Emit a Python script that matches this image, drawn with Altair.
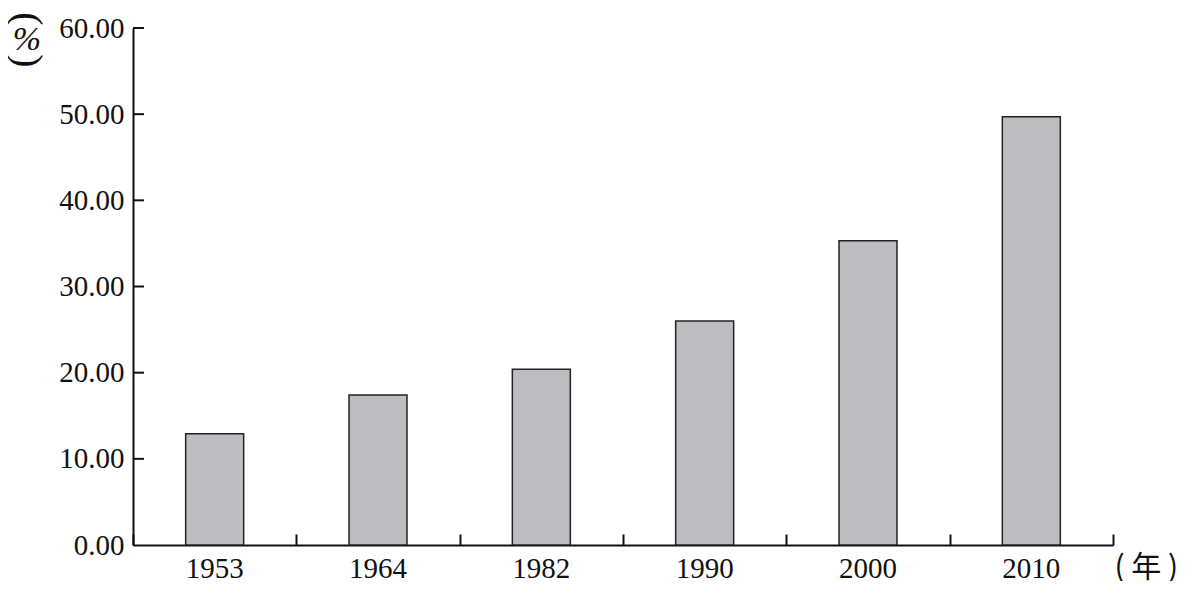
import altair as alt
import pandas as pd

years = ["1953", "1964", "1982", "1990", "2000", "2010"]
values = [12.9, 17.4, 20.4, 26.0, 35.3, 49.7]
y_ticks = [10, 20, 30, 40, 50, 60]

bars_df = pd.DataFrame({"year": years, "value": values})
yt_df = pd.DataFrame({"v": y_ticks})
one_df = pd.DataFrame({"k": [0]})

W, H = 980, 517
FONT = "Liberation Serif"
xscale = alt.Scale(paddingInner=0, paddingOuter=0)
yscale = alt.Scale(domain=[0, 60], nice=False, zero=True)

bars = alt.Chart(bars_df).mark_bar(
    color="#bcbdc0", stroke="#222", strokeWidth=1.5,
    width=alt.RelativeBandSize(band=0.355),
).encode(
    x=alt.X(
        "year:N",
        sort=years,
        scale=xscale,
        axis=alt.Axis(
            title="( 年 )",
            titleFont="Noto Sans CJK SC",
            titleFontWeight="normal",
            titleFontSize=30,
            titleColor="#111",
            titleX=W + 1,
            titleY=22,
            titleAlign="left",
            titleBaseline="middle",
            labelAngle=0,
            labelFont=FONT,
            labelFontSize=29,
            labelColor="#111",
            labelPadding=9,
            ticks=False,
            domainColor="#111",
            domainWidth=2,
        ),
    ),
    y=alt.Y(
        "value:Q",
        scale=yscale,
        axis=alt.Axis(
            title=None,
            values=[0, 10, 20, 30, 40, 50, 60],
            format=".2f",
            labelFont=FONT,
            labelFontSize=29,
            labelColor="#111",
            labelPadding=9,
            ticks=False,
            grid=False,
            domainColor="#111",
            domainWidth=2,
        ),
    ),
)

# inward-pointing ticks at category boundaries: a top axis moved down to the bottom
xticks = alt.Chart(bars_df).mark_text(text="").encode(
    x=alt.X(
        "year:N",
        sort=years,
        scale=xscale,
        axis=alt.Axis(
            orient="top",
            offset=-H,
            title=None,
            labels=False,
            domain=False,
            tickBand="extent",
            tickSize=11,
            tickWidth=2,
            tickColor="#111",
        ),
    ),
)

yticks = alt.Chart(yt_df).mark_tick(
    color="#111", thickness=2, size=11, orient="horizontal", opacity=1
).encode(
    y=alt.Y("v:Q", scale=yscale),
    x=alt.value(5.5),
)

pct_top = alt.Chart(one_df).mark_text(
    text="(", font=FONT, fontSize=40, color="#111", angle=90,
    baseline="middle", align="center"
).encode(x=alt.value(-106), y=alt.value(-9))
pct = alt.Chart(one_df).mark_text(
    text="%", font=FONT, fontSize=34, color="#111", fontStyle="italic",
    baseline="middle", align="center"
).encode(x=alt.value(-106), y=alt.value(12))
pct_bot = alt.Chart(one_df).mark_text(
    text=")", font=FONT, fontSize=40, color="#111", angle=90,
    baseline="middle", align="center"
).encode(x=alt.value(-106), y=alt.value(33))

chart = alt.layer(bars, xticks, yticks, pct_top, pct, pct_bot).resolve_axis(
    x="independent"
).properties(
    width=W,
    height=H,
    autosize="none",
    background="white",
    padding={"left": 125, "top": 20, "right": 66, "bottom": 36},
).configure_view(stroke=None)

chart.save("out.html", embed_options={"renderer": "svg", "actions": False})
